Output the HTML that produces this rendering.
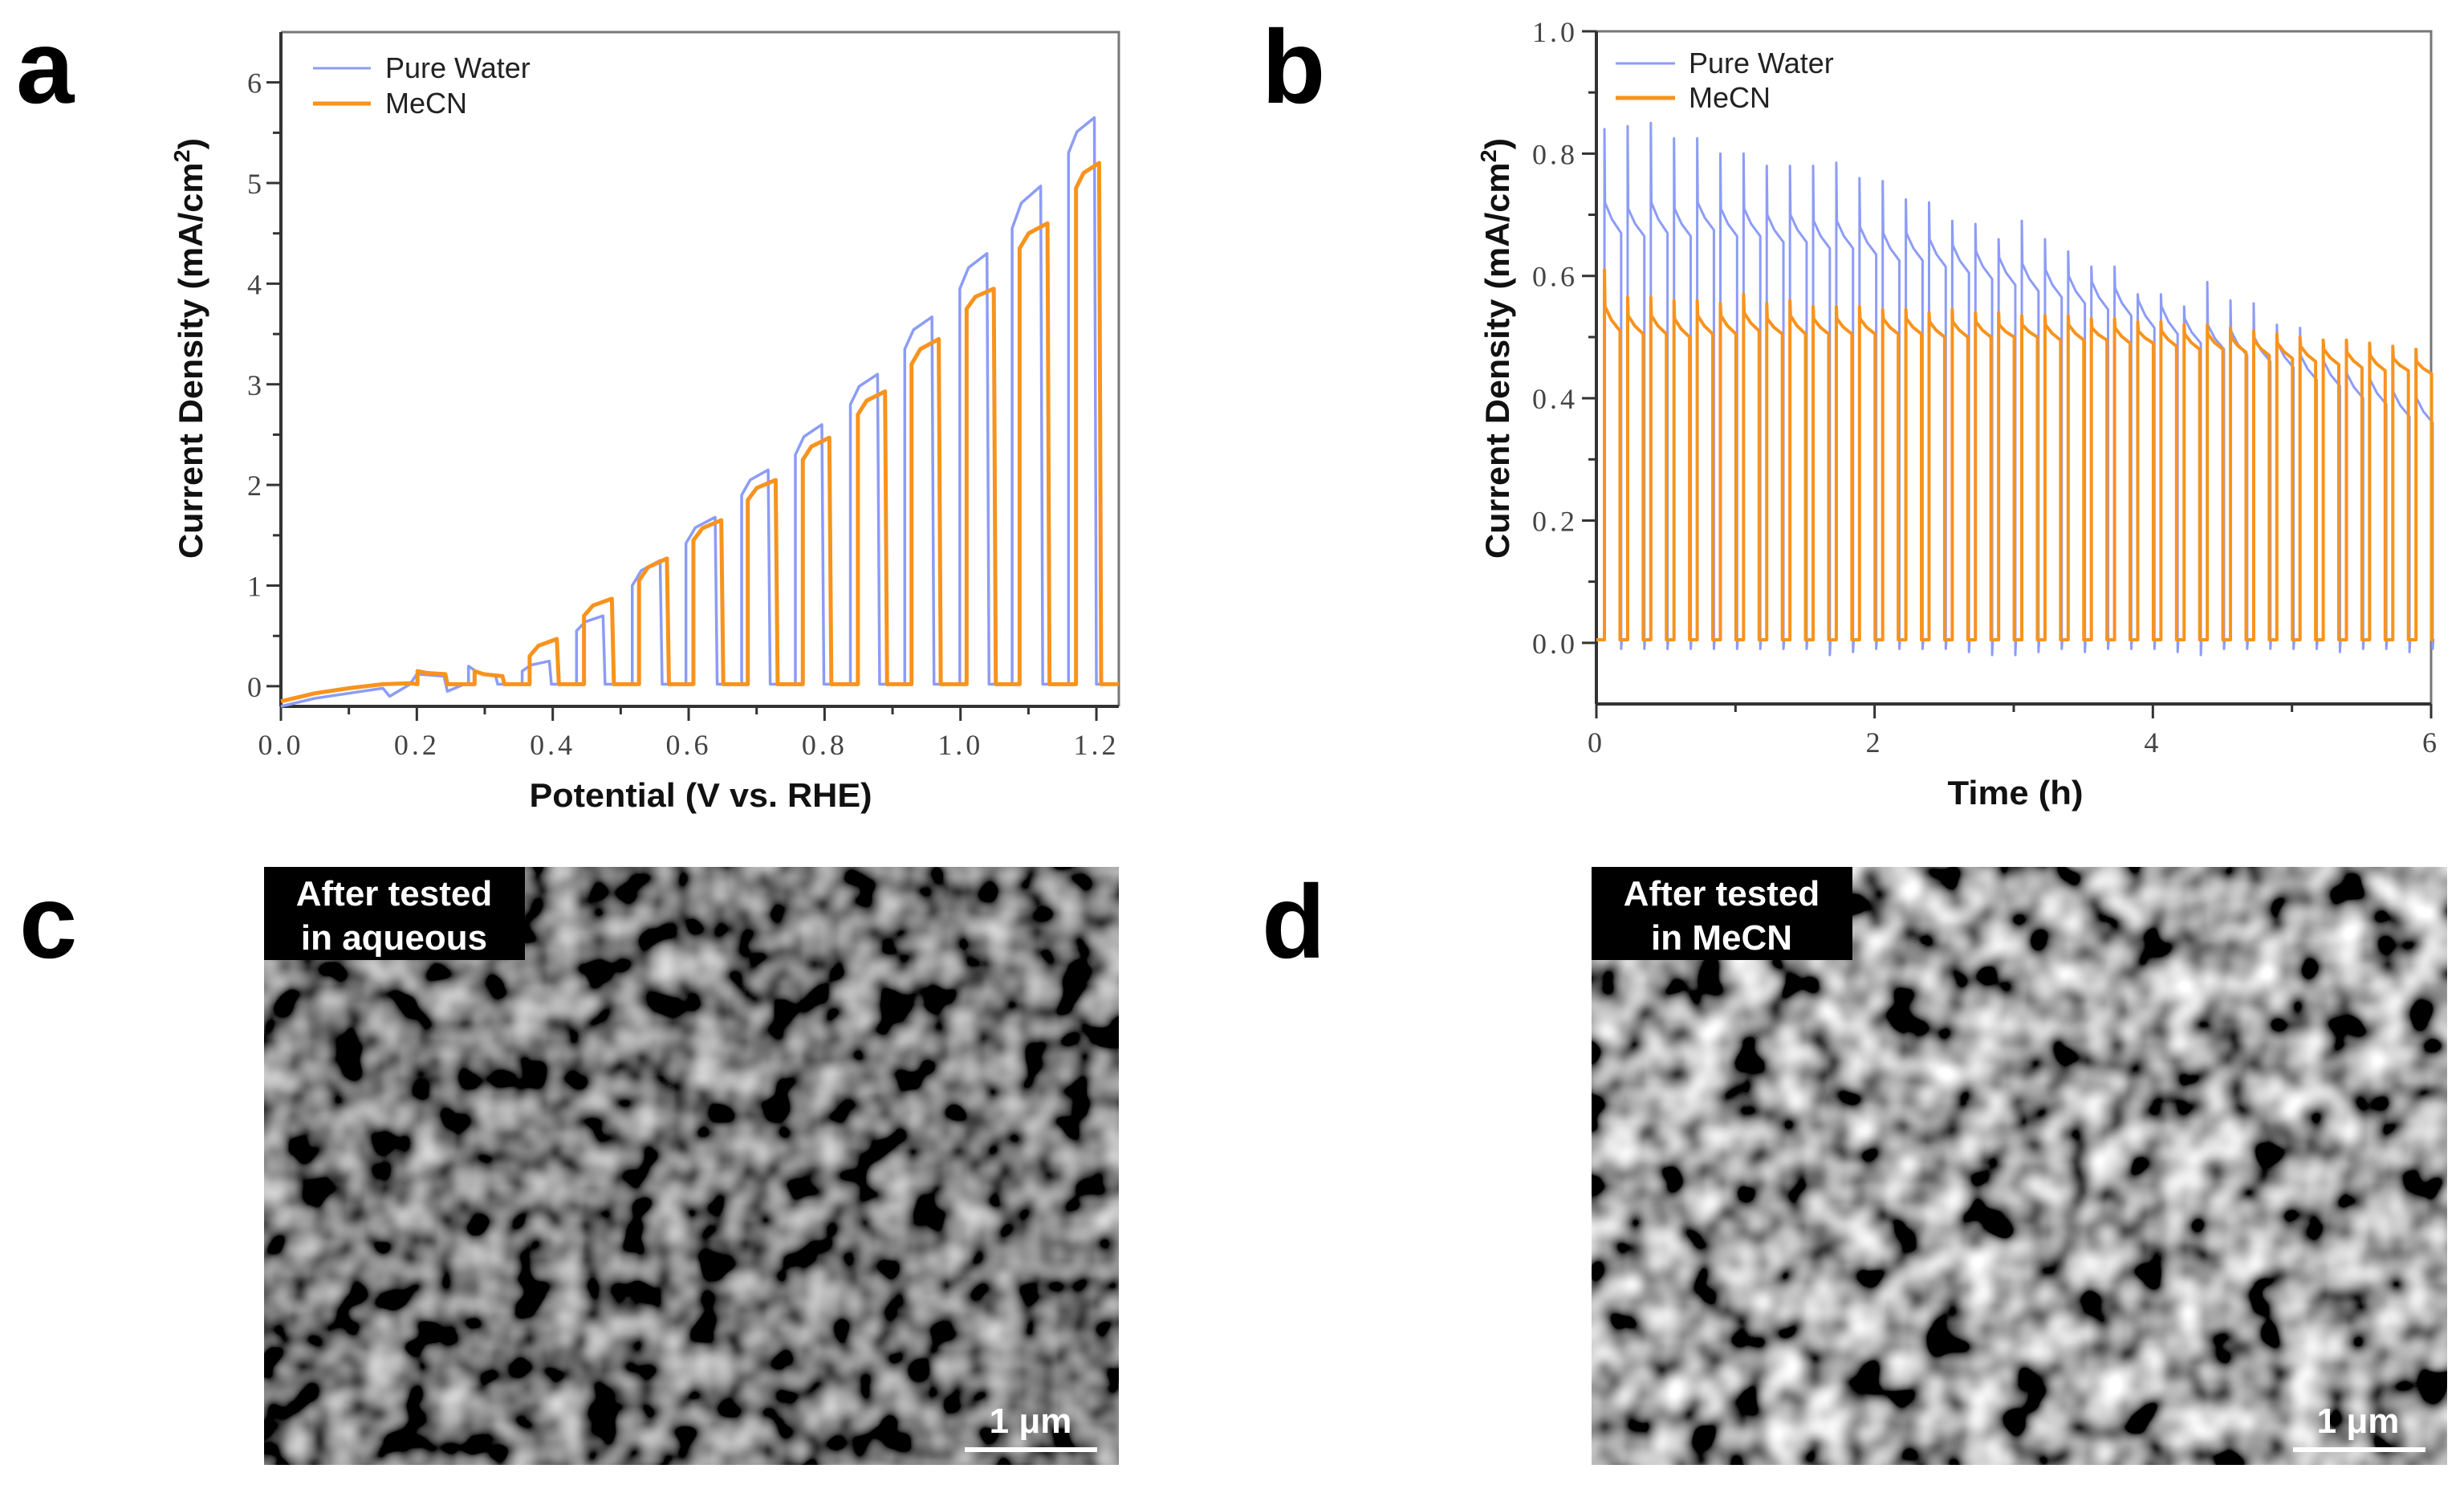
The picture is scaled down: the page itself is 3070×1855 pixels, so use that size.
<!DOCTYPE html>
<html><head><meta charset="utf-8">
<style>
html,body{margin:0;padding:0;background:#fff;}
svg{display:block;}
.tick{font-family:"Liberation Serif",serif;font-size:36px;fill:#444;letter-spacing:4px;}
.title{font-family:"Liberation Sans",sans-serif;font-weight:bold;font-size:42px;fill:#111;}
.leg{font-family:"Liberation Sans",sans-serif;font-size:36px;fill:#222;}
.panel{font-family:"Liberation Sans",sans-serif;font-weight:bold;fill:#000;}
.lab{font-family:"Liberation Sans",sans-serif;font-weight:bold;font-size:44px;fill:#fff;}
</style></head>
<body>
<svg id="fig" width="3070" height="1855" viewBox="0 0 3070 1855" xmlns="http://www.w3.org/2000/svg">
<defs>
<filter id="semC" x="0" y="0" width="100%" height="100%">
<feTurbulence type="fractalNoise" baseFrequency="0.022" numOctaves="2" seed="4"/>
<feColorMatrix type="matrix" values="1 0 0 0 0  1 0 0 0 0  1 0 0 0 0  0 0 0 0 1"/>
<feComponentTransfer><feFuncR type="linear" slope="1.3" intercept="-0.45"/><feFuncG type="linear" slope="1.3" intercept="-0.45"/><feFuncB type="linear" slope="1.3" intercept="-0.45"/></feComponentTransfer>
</filter>
<filter id="semD" x="0" y="0" width="100%" height="100%">
<feTurbulence type="fractalNoise" baseFrequency="0.02" numOctaves="2" seed="9"/>
<feColorMatrix type="matrix" values="1 0 0 0 0  1 0 0 0 0  1 0 0 0 0  0 0 0 0 1"/>
<feComponentTransfer><feFuncR type="linear" slope="2.0" intercept="-0.62"/><feFuncG type="linear" slope="2.0" intercept="-0.62"/><feFuncB type="linear" slope="2.0" intercept="-0.62"/></feComponentTransfer>
</filter>
</defs>

<text class="panel" x="20" y="128" font-size="130">a</text>
<text class="panel" x="1572" y="128" font-size="130">b</text>
<text class="panel" x="24" y="1193" font-size="130">c</text>
<text class="panel" x="1572" y="1193" font-size="130">d</text>

<g id="chartA"></g>
<g id="chartB"></g>

<g>
<rect x="329" y="1080" width="1065" height="745" fill="#555"/>
<rect x="329" y="1080" width="1065" height="745" filter="url(#semC)"/>
<rect x="329" y="1080" width="325" height="116" fill="#000"/>
<text class="lab" x="491" y="1128" text-anchor="middle">After tested</text>
<text class="lab" x="491" y="1183" text-anchor="middle">in aqueous</text>
<text class="lab" x="1284" y="1785" text-anchor="middle" font-size="40">1 μm</text>
<rect x="1202" y="1803" width="165" height="6" fill="#fff"/>
</g>
<g>
<rect x="1983" y="1080" width="1066" height="745" fill="#777"/>
<rect x="1983" y="1080" width="1066" height="745" filter="url(#semD)"/>
<rect x="1983" y="1080" width="325" height="116" fill="#000"/>
<text class="lab" x="2145" y="1128" text-anchor="middle">After tested</text>
<text class="lab" x="2145" y="1183" text-anchor="middle">in MeCN</text>
<text class="lab" x="2938" y="1785" text-anchor="middle" font-size="40">1 μm</text>
<rect x="2857" y="1803" width="165" height="6" fill="#fff"/>
</g>
</svg>

<script>
// ---------- Chart A data (chopped LSV) ----------
const aXTicks = [0.0, 0.2, 0.4, 0.6, 0.8, 1.0, 1.2];
const aXTickLabels = ["0.0", "0.2", "0.4", "0.6", "0.8", "1.0", "1.2"];
const aYTicks = [0, 1, 2, 3, 4, 5, 6];
const aYTickLabels = ["0", "1", "2", "3", "4", "5", "6"];
const waterRampX = [0, 0.05, 0.1, 0.15, 0.16, 0.19, 0.2, 0.24, 0.245, 0.27];
const waterRampY = [-0.2, -0.12, -0.07, -0.02, -0.1, 0.02, 0.12, 0.1, -0.05, 0.02];
const waterOn = [0.276, 0.355, 0.435, 0.517, 0.596, 0.678, 0.757, 0.838, 0.918, 0.999, 1.076, 1.159];
const waterOff = [0.319, 0.398, 0.477, 0.561, 0.642, 0.720, 0.799, 0.881, 0.961, 1.042, 1.121, 1.200];
const waterTop0 = [0.20, 0.15, 0.55, 1.00, 1.42, 1.90, 2.30, 2.80, 3.35, 3.95, 4.55, 5.30];
const waterTop1 = [0.10, 0.25, 0.70, 1.25, 1.68, 2.15, 2.60, 3.10, 3.67, 4.30, 4.97, 5.65];
const mecnRampX = [0, 0.05, 0.1, 0.15, 0.19];
const mecnRampY = [-0.15, -0.07, -0.02, 0.02, 0.03];
const mecnOn = [0.201, 0.285, 0.366, 0.446, 0.527, 0.607, 0.687, 0.768, 0.849, 0.928, 1.009, 1.087, 1.170];
const mecnOff = [0.245, 0.329, 0.409, 0.490, 0.571, 0.651, 0.731, 0.810, 0.892, 0.971, 1.052, 1.131, 1.207];
const mecnTop0 = [0.15, 0.15, 0.30, 0.70, 1.05, 1.45, 1.85, 2.25, 2.70, 3.20, 3.75, 4.35, 4.95];
const mecnTop1 = [0.12, 0.10, 0.47, 0.87, 1.27, 1.65, 2.05, 2.47, 2.93, 3.45, 3.95, 4.60, 5.20];
const aOffLevel = 0.02;

// ---------- Chart B data (chopped chronoamperometry) ----------
const bXTicks = [0, 2, 4, 6];
const bXTickLabels = ["0", "2", "4", "6"];
const bYTicks = [0, 0.2, 0.4, 0.6, 0.8, 1.0];
const bYTickLabels = ["0.0", "0.2", "0.4", "0.6", "0.8", "1.0"];
const cycleHours = 1/6;
const firstOn = 0.058;
const onDuration = 0.12;
const waterSpike = [0.84,0.845,0.85,0.825,0.825,0.80,0.80,0.78,0.78,0.78,0.785,0.76,0.755,0.725,0.72,0.69,0.685,0.66,0.69,0.66,0.64,0.615,0.615,0.57,0.57,0.55,0.59,0.56,0.555,0.52,0.515,0.495,0.495,0.49,0.475,0.47];
const waterStart = [0.72,0.71,0.72,0.71,0.72,0.71,0.71,0.70,0.70,0.69,0.69,0.68,0.67,0.67,0.66,0.65,0.64,0.63,0.62,0.61,0.60,0.59,0.58,0.56,0.55,0.53,0.52,0.51,0.50,0.49,0.47,0.46,0.44,0.43,0.41,0.40];
const waterEnd = [0.67,0.665,0.67,0.665,0.675,0.665,0.665,0.655,0.655,0.645,0.645,0.635,0.625,0.625,0.615,0.605,0.595,0.585,0.575,0.565,0.555,0.545,0.535,0.515,0.505,0.49,0.48,0.47,0.46,0.45,0.43,0.42,0.40,0.39,0.37,0.36];
const waterDip = [-0.01,-0.01,-0.01,-0.01,-0.01,-0.01,-0.01,-0.01,-0.01,-0.02,-0.015,-0.01,-0.01,-0.01,-0.01,-0.015,-0.02,-0.02,-0.015,-0.01,-0.015,-0.01,-0.01,-0.01,-0.015,-0.02,-0.01,-0.01,-0.01,-0.01,-0.01,-0.015,-0.01,-0.01,-0.015,-0.01];
const mecnSpike = [0.61,0.565,0.565,0.56,0.56,0.555,0.57,0.555,0.56,0.55,0.55,0.55,0.545,0.545,0.54,0.545,0.54,0.54,0.535,0.535,0.535,0.53,0.53,0.525,0.525,0.52,0.52,0.515,0.51,0.505,0.5,0.495,0.495,0.49,0.485,0.48];
const mecnStart = [0.55,0.535,0.535,0.53,0.535,0.535,0.54,0.53,0.535,0.53,0.53,0.53,0.53,0.53,0.525,0.525,0.525,0.52,0.52,0.52,0.52,0.515,0.515,0.51,0.51,0.505,0.505,0.5,0.495,0.49,0.485,0.48,0.475,0.47,0.465,0.46];
const mecnEnd = [0.51,0.505,0.505,0.5,0.505,0.505,0.51,0.505,0.505,0.505,0.505,0.505,0.505,0.505,0.5,0.5,0.5,0.5,0.5,0.495,0.495,0.495,0.49,0.49,0.485,0.48,0.48,0.475,0.47,0.465,0.46,0.455,0.45,0.445,0.445,0.44];

const NS = "http://www.w3.org/2000/svg";
function mk(parent, tag, attrs) {
  const e = document.createElementNS(NS, tag);
  for (const k in attrs) e.setAttribute(k, attrs[k]);
  parent.appendChild(e);
  return e;
}

function drawAxes(g, cfg) {
  const {L, R, T, B, sx, sy, xt, xtl, yt, ytl, xMinor, yMinor, xName, yName, xTitle, xTitleX, xTitleY, yTitleX, yTitleY, xTitleLen, yTitleLen, yLabelX, xLabelY} = cfg;
  const fr = mk(g, "path", {d: `M${L},${T} H${R} V${B}`, fill: "none", stroke: "#777", "stroke-width": 3});
  
  
  const xa = mk(g, "line", {x1: L, y1: B, x2: R, y2: B, stroke: "#333", "stroke-width": 4});
  
  
  const ya = mk(g, "line", {x1: L, y1: T, x2: L, y2: B, stroke: "#333", "stroke-width": 4});
  
  
  xMinor.forEach(v => { mk(g, "line", {x1: sx(v), y1: B, x2: sx(v), y2: B + 10, stroke: "#333", "stroke-width": 3}); });
  yMinor.forEach(v => { mk(g, "line", {x1: L, y1: sy(v), x2: L - 10, y2: sy(v), stroke: "#333", "stroke-width": 3}); });
  xt.forEach((v, i) => {
    mk(g, "line", {x1: sx(v), y1: B, x2: sx(v), y2: B + 18, stroke: "#333", "stroke-width": 3});
    const t = mk(g, "text", {x: sx(v), y: xLabelY, class: "tick", "text-anchor": "middle"});
    t.textContent = xtl[i];
    
    
  });
  yt.forEach((v, i) => {
    mk(g, "line", {x1: L, y1: sy(v), x2: L - 18, y2: sy(v), stroke: "#333", "stroke-width": 3});
    const t = mk(g, "text", {x: yLabelX, y: sy(v) + 13, class: "tick", "text-anchor": "end"});
    t.textContent = ytl[i];
    
    
  });
  const xt2 = mk(g, "text", {x: xTitleX, y: xTitleY, class: "title", "text-anchor": "middle", textLength: xTitleLen, lengthAdjust: "spacingAndGlyphs"});
  xt2.textContent = xTitle;
  
  
  const yt2 = mk(g, "text", {x: 0, y: 0, class: "title", "text-anchor": "middle", transform: `translate(${yTitleX},${yTitleY}) rotate(-90)`, textLength: yTitleLen, lengthAdjust: "spacingAndGlyphs"});
  yt2.innerHTML = 'Current Density (mA/cm<tspan dy="-16" font-size="28">2</tspan><tspan dy="16">)</tspan>';
  
  
}

function drawLegend(g, x1, x2, tx, y1, y2) {
  const l1 = mk(g, "line", {x1: x1, y1: y1, x2: x2, y2: y1, stroke: "#8c9cf5", "stroke-width": 3});
  
  
  const t1 = mk(g, "text", {x: tx, y: y1 + 12, class: "leg"});
  t1.textContent = "Pure Water";
  
  
  const l2 = mk(g, "line", {x1: x1, y1: y2, x2: x2, y2: y2, stroke: "#f7931e", "stroke-width": 5});
  
  
  const t2 = mk(g, "text", {x: tx, y: y2 + 12, class: "leg"});
  t2.textContent = "MeCN";
  
  
}

(function () {
  const g = document.getElementById("chartA");
  const L = 350, R = 1394, T = 40, B = 880;
  const xMin = 0, xMax = 1.233, yMin = -0.2, yMax = 6.5;
  const sx = v => L + (v - xMin) / (xMax - xMin) * (R - L);
  const sy = v => B - (v - yMin) / (yMax - yMin) * (B - T);
  const xMinor = [0.1, 0.3, 0.5, 0.7, 0.9, 1.1];
  const yMinor = [0.5, 1.5, 2.5, 3.5, 4.5, 5.5];
  drawAxes(g, {L, R, T, B, sx, sy, xt: aXTicks, xtl: aXTickLabels, yt: aYTicks, ytl: aYTickLabels, xMinor, yMinor,
    xName: "x", yName: "y", xTitle: "Potential (V vs. RHE)", xTitleX: 873, xTitleY: 1005, yTitleX: 252, yTitleY: 434,
    xTitleLen: 427, yTitleLen: 524, yLabelX: 330, xLabelY: 940});
  function series(rx, ry, on, off, t0, t1) {
    let d = "";
    rx.forEach((x, i) => { d += (i ? "L" : "M") + sx(x).toFixed(1) + "," + sy(ry[i]).toFixed(1); });
    on.forEach((x, i) => {
      const dur = off[i] - x;
      d += `L${sx(x)},${sy(aOffLevel)}L${sx(x)},${sy(t0[i])}`;
      d += `L${sx(x + 0.3 * dur)},${sy(t0[i] + 0.6 * (t1[i] - t0[i]))}`;
      d += `L${sx(off[i] - 0.003)},${sy(t1[i])}L${sx(off[i])},${sy(aOffLevel)}`;
    });
    d += `L${sx(xMax)},${sy(aOffLevel)}`;
    return d;
  }
  const pw = mk(g, "path", {d: series(waterRampX, waterRampY, waterOn, waterOff, waterTop0, waterTop1), fill: "none", stroke: "#8c9cf5", "stroke-width": 3.5, "stroke-linejoin": "round"});
  
  
  const pm = mk(g, "path", {d: series(mecnRampX, mecnRampY, mecnOn, mecnOff, mecnTop0, mecnTop1), fill: "none", stroke: "#f7931e", "stroke-width": 5, "stroke-linejoin": "round"});
  
  
  drawLegend(g, 390, 462, 480, 85, 129);
})();

(function () {
  const g = document.getElementById("chartB");
  const L = 1989, R = 3029, T = 39, B = 877;
  const xMin = 0, xMax = 6, yMin = -0.1, yMax = 1.0;
  const sx = v => L + (v - xMin) / (xMax - xMin) * (R - L);
  const sy = v => B - (v - yMin) / (yMax - yMin) * (B - T);
  const xMinor = [1, 3, 5];
  const yMinor = [0.1, 0.3, 0.5, 0.7, 0.9];
  drawAxes(g, {L, R, T, B, sx, sy, xt: bXTicks, xtl: bXTickLabels, yt: bYTicks, ytl: bYTickLabels, xMinor, yMinor,
    xName: "x", yName: "y", xTitle: "Time (h)", xTitleX: 2511, xTitleY: 1002, yTitleX: 1880, yTitleY: 434,
    xTitleLen: 169, yTitleLen: 524, yLabelX: 1966, xLabelY: 937});
  function series(spk, st, en, dip, dur) {
    let d = `M${sx(0)},${sy(0.005)}`;
    spk.forEach((s, i) => {
      const on = firstOn + i * cycleHours, off = on + dur;
      d += `L${sx(on)},${sy(0.005)}L${sx(on)},${sy(s)}L${sx(on + 0.004)},${sy(st[i])}`;
      d += `L${sx(on + dur * 0.45)},${sy(st[i] - 0.55 * (st[i] - en[i]))}L${sx(off)},${sy(en[i])}`;
      d += `L${sx(off)},${sy(dip ? dip[i] : 0.005)}L${sx(off + 0.005)},${sy(0.005)}`;
    });
    d += `L${sx(xMax)},${sy(0.005)}`;
    return d;
  }
  const pw = mk(g, "path", {d: series(waterSpike, waterStart, waterEnd, waterDip, onDuration), fill: "none", stroke: "#8c9cf5", "stroke-width": 3, "stroke-linejoin": "round"});
  
  
  const pm = mk(g, "path", {d: series(mecnSpike, mecnStart, mecnEnd, null, onDuration - 0.008), fill: "none", stroke: "#f7931e", "stroke-width": 4, "stroke-linejoin": "round"});
  
  
  drawLegend(g, 2013, 2087, 2104, 79, 122);
})();
</script>
</body></html>
